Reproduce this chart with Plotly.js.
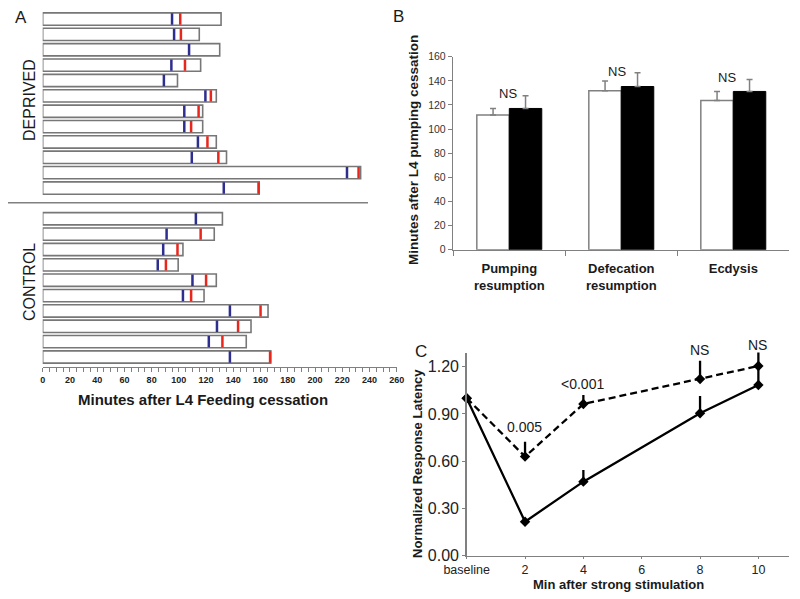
<!DOCTYPE html>
<html>
<head>
<meta charset="utf-8">
<script src="https://cdn.plot.ly/plotly-3.0.1.min.js"></script>
<style>html,body{margin:0;padding:0;background:#fff;}#chart{width:800px;height:599px;}</style>
</head>
<body>
<div id="chart"></div>
<script>
// ---------- Panel A data (minutes after L4 feeding cessation) ----------
const deprivedEnd  = [131, 115, 130, 116, 99, 127.5, 117.5, 117.5, 127.5, 135, 233.5, 159];
const deprivedBlue = [95, 96.5, 107.5, 94.5, 89, 119.5, 104, 104, 114, 109.5, 223.5, 133];
const deprivedRed  = [101, 101.5, null, 104.5, null, 123.5, 114.5, 109, 121, 129, 232, 158.5];
const controlEnd   = [132, 126, 103, 99.5, 127.5, 118.5, 165.5, 153, 149.5, 167.5];
const controlBlue  = [112.5, 91, 88.5, 84.5, 110, 103, 137.5, 128, 122, 137.5];
const controlRed   = [null, 116, 99, 90.5, 120, 109, 160, 143.5, 132, 167];
const groupLabels  = ['DEPRIVED', 'CONTROL'];
const aTickVals    = [0, 20, 40, 60, 80, 100, 120, 140, 160, 180, 200, 220, 240, 260];

// ---------- Panel B data ----------
const bCategories = ['Pumping<br>resumption', 'Defecation<br>resumption', 'Ecdysis'];
const bOpen       = [111.6, 131.7, 123.7];
const bOpenErr    = [5.5, 8.1, 7.5];
const bFilled     = [117.1, 135.3, 131.2];
const bFilledErr  = [10.5, 11.3, 9.9];
const bSigLabels  = ['NS', 'NS', 'NS'];

// ---------- Panel C data ----------
const cX          = [0, 2, 4, 8, 10];
const cTickVals   = [0, 2, 4, 6, 8, 10];
const cTickText   = ['baseline', '2', '4', '6', '8', '10'];
const cSolid      = [1.0, 0.216, 0.47, 0.904, 1.084];
const cSolidErr   = [0, 0.02, 0.074, 0.11, 0.116];
const cDashed     = [1.0, 0.629, 0.963, 1.122, 1.204];
const cDashedErr  = [0, 0.095, 0.057, 0.116, 0.09];
const cSigX       = [2, 4, 8, 10];
const cSigLabels  = ['0.005', '<0.001', 'NS', 'NS'];

// ---------- Build panel A ----------
const depPos = deprivedEnd.map((_, i) => i);
const ctlPos = controlEnd.map((_, i) => i + deprivedEnd.length + 1);
const allPos = depPos.concat(ctlPos);
const allEnd = deprivedEnd.concat(controlEnd);
const allBlue = deprivedBlue.concat(controlBlue);
const allRed = deprivedRed.concat(controlRed);

function tickSegments(vals, pos) {
  const xs = [], ys = [];
  vals.forEach((v, i) => {
    if (v === null) return;
    xs.push(v, v, null);
    ys.push(pos[i] - 0.37, pos[i] + 0.37, null);
  });
  return {xs, ys};
}
const blueSeg = tickSegments(allBlue, allPos);
const redSeg = tickSegments(allRed, allPos);

const GRAY = '#808080';
const TXT = '#1a1a1a';

const traces = [
  {
    type: 'bar', orientation: 'h', x: allEnd, y: allPos, base: 0, width: 0.8,
    marker: {color: '#ffffff', line: {color: '#777777', width: 1.6}},
    xaxis: 'x', yaxis: 'y', showlegend: false, hoverinfo: 'x'
  },
  {
    type: 'scatter', mode: 'lines', x: blueSeg.xs, y: blueSeg.ys,
    line: {color: '#2e2e8f', width: 2.5}, xaxis: 'x', yaxis: 'y', showlegend: false, cliponaxis: false
  },
  {
    type: 'scatter', mode: 'lines', x: redSeg.xs, y: redSeg.ys,
    line: {color: '#e8261c', width: 2.5}, xaxis: 'x', yaxis: 'y', showlegend: false, cliponaxis: false
  },
  // Panel B
  {
    type: 'bar', x: bCategories, y: bOpen, name: 'Control',
    marker: {color: '#ffffff', line: {color: GRAY, width: 1.5}},
    error_y: {type: 'data', symmetric: false, array: bOpenErr, arrayminus: bOpenErr.map(() => 0),
              color: GRAY, thickness: 1.5, width: 3},
    xaxis: 'x2', yaxis: 'y2', showlegend: false
  },
  {
    type: 'bar', x: bCategories, y: bFilled, name: 'Deprived',
    marker: {color: '#000000', line: {color: '#000000', width: 1}},
    error_y: {type: 'data', symmetric: false, array: bFilledErr, arrayminus: bFilledErr.map(() => 0),
              color: GRAY, thickness: 1.5, width: 3},
    xaxis: 'x2', yaxis: 'y2', showlegend: false
  },
  // Panel C
  {
    type: 'scatter', mode: 'lines+markers', x: cX, y: cSolid,
    line: {color: '#000', width: 2.3},
    marker: {symbol: 'diamond', size: 8, color: '#000'},
    error_y: {type: 'data', symmetric: false, array: cSolidErr, arrayminus: cSolidErr.map(() => 0),
              color: '#000', thickness: 2.3, width: 0},
    xaxis: 'x3', yaxis: 'y3', showlegend: false, cliponaxis: false
  },
  {
    type: 'scatter', mode: 'lines+markers', x: cX, y: cDashed,
    line: {color: '#000', width: 2.3, dash: '7px,4px'},
    marker: {symbol: 'diamond', size: 8, color: '#000'},
    error_y: {type: 'data', symmetric: false, array: cDashedErr, arrayminus: cDashedErr.map(() => 0),
              color: '#000', thickness: 2.3, width: 0},
    xaxis: 'x3', yaxis: 'y3', showlegend: false, cliponaxis: false
  }
];

const W = 800, H = 599;
const px = v => v / W;
const py = v => (H - v) / H;

const annotations = [];
function ann(text, x, y, size, opts) {
  annotations.push(Object.assign({
    text: text, x: x, y: y, xref: 'paper', yref: 'paper', showarrow: false,
    xanchor: 'center', yanchor: 'middle', font: {size: size, color: TXT}
  }, opts || {}));
}
// Panel letters
ann('A', px(21), py(18), 17);
ann('B', px(398), py(16), 17);
ann('C', px(421), py(351), 17);
// Group labels A
ann(groupLabels[0], px(29), py(100), 16, {textangle: -90});
ann(groupLabels[1], px(29), py(282), 16, {textangle: -90});
// Axis titles
ann('Minutes after L4 Feeding cessation', px(203), py(399), 15, {font: {size: 15, color: TXT, weight: 'bold'}});
ann('Minutes after L4 pumping cessation', px(413), py(150), 13.5, {textangle: -90, font: {size: 13.5, color: TXT, weight: 'bold'}});
ann('Normalized Response Latency', px(417), py(464), 13, {textangle: -90, font: {size: 13, color: TXT, weight: 'bold'}});
ann('Min after strong stimulation', px(618), py(584), 13, {font: {size: 13, color: TXT, weight: 'bold'}});

// B significance labels
const bShift = [-1, -4, -6];
bCategories.forEach((c, i) => {
  annotations.push({
    text: bSigLabels[i], x: c, y: bFilled[i] + bFilledErr[i] + 1.5, xref: 'x2', yref: 'y2',
    showarrow: false, xanchor: 'center', yanchor: 'middle', xshift: bShift[i],
    font: {size: 13, color: TXT}
  });
});
// C significance labels (anchored on the dashed-line point, shifted upward)
const cShift = [30, 20, 29, 21];
cSigX.forEach((xv, i) => {
  const k = cX.indexOf(xv);
  annotations.push({
    text: cSigLabels[i], x: xv, y: cDashed[k], xref: 'x3', yref: 'y3',
    showarrow: false, xanchor: 'center', yanchor: 'middle', yshift: cShift[i], xshift: -1,
    font: {size: 14, color: TXT}
  });
});

const shapes = [
  {type: 'line', xref: 'paper', yref: 'y', x0: px(8), x1: px(368), y0: 11.95, y1: 11.95,
   line: {color: GRAY, width: 1.5}}
];

const layout = {
  width: W, height: H,
  margin: {l: 0, r: 0, t: 0, b: 0, pad: 0},
  paper_bgcolor: '#fff', plot_bgcolor: 'rgba(0,0,0,0)',
  font: {family: '"Liberation Sans", Arial, sans-serif', color: TXT},
  showlegend: false,
  barmode: 'group', bargap: 0.42, bargroupgap: 0,
  xaxis: {
    domain: [px(42.7), px(396.7)], range: [0, 260], anchor: 'y',
    tickmode: 'array', tickvals: aTickVals,
    showline: true, linecolor: GRAY, linewidth: 1.5, showgrid: false, zeroline: false,
    ticks: 'outside', ticklen: 4, tickcolor: GRAY, tickwidth: 1,
    minor: {dtick: 5, ticks: 'outside', ticklen: 4, tickcolor: GRAY, tickwidth: 1, showgrid: false},
    tickfont: {size: 9, color: '#222', weight: 'bold'}
  },
  yaxis: {
    domain: [py(366.7), py(8.3)], range: [22.63, -0.7], anchor: 'x',
    showline: false, showgrid: false, zeroline: false, showticklabels: false, ticks: ''
  },
  xaxis2: {
    domain: [px(453.3), px(789.3)], anchor: 'y2', type: 'category',
    showline: true, linecolor: GRAY, linewidth: 1.5, showgrid: false, zeroline: false,
    ticks: 'outside', tickson: 'boundaries', ticklen: 5, tickcolor: GRAY,
    ticklabelstandoff: 6,
    tickfont: {size: 13, color: TXT, weight: 'bold'}
  },
  yaxis2: {
    domain: [py(249.75), py(56.7)], range: [0, 160], anchor: 'x2', dtick: 20,
    showline: true, linecolor: GRAY, linewidth: 1.5, showgrid: false, zeroline: false,
    ticks: 'outside', ticklen: 4, tickcolor: GRAY,
    tickfont: {size: 10.5, color: '#333'}
  },
  xaxis3: {
    domain: [px(466.7), px(789.3)], range: [0, 11.06], anchor: 'y3',
    tickmode: 'array', tickvals: cTickVals, ticktext: cTickText,
    showline: true, linecolor: GRAY, linewidth: 1.5, showgrid: false, zeroline: false,
    ticks: 'outside', ticklen: 2, tickcolor: GRAY,
    tickfont: {size: 12.5, color: '#222'}
  },
  yaxis3: {
    domain: [py(555.7), py(352.5)], range: [0, 1.29], anchor: 'x3',
    tickmode: 'array', tickvals: [0, 0.3, 0.6, 0.9, 1.2], tickformat: '.2f',
    showline: true, linecolor: GRAY, linewidth: 1.5, showgrid: false, zeroline: false,
    ticks: 'outside', ticklen: 3, tickcolor: GRAY,
    tickfont: {size: 16, color: '#222'}
  },
  annotations: annotations,
  shapes: shapes
};

Plotly.newPlot('chart', traces, layout, {staticPlot: true, displayModeBar: false});
</script>
</body>
</html>
